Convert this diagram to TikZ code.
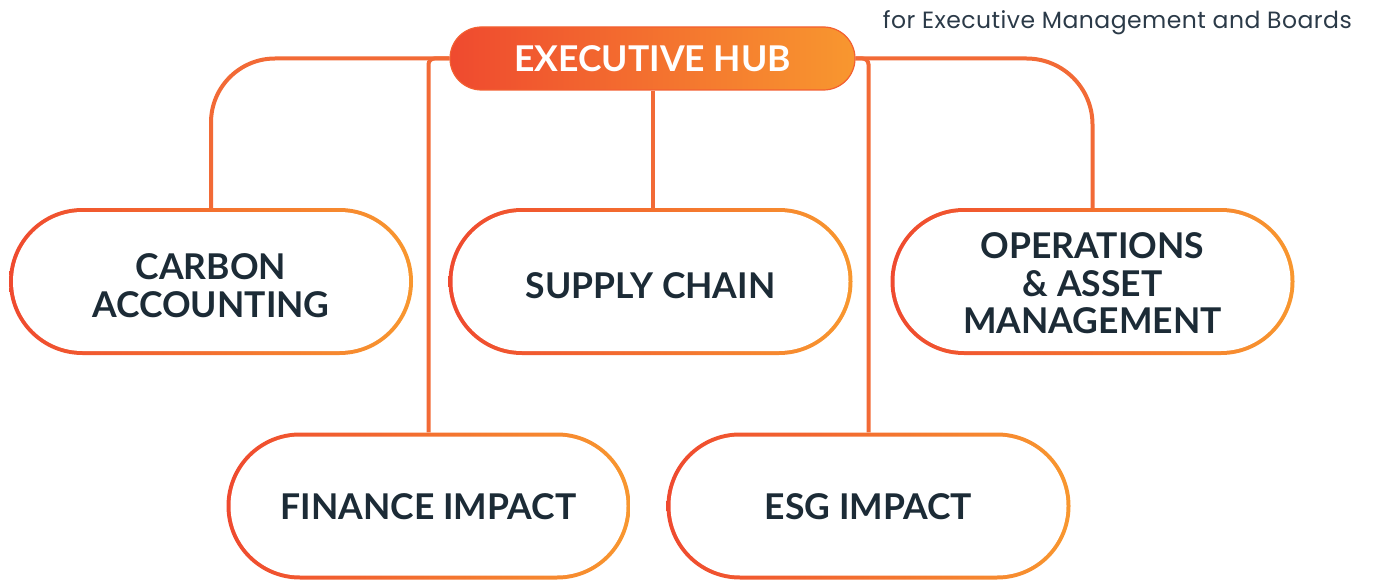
\documentclass[tikz,border=0pt]{standalone}
\usepackage{fontspec}
\setmainfont{Lato}
\newfontfamily\subfont[LetterSpace=2]{Poppins}
\usetikzlibrary{shapes.misc}
\definecolor{cred}{HTML}{EF4A2F}
\definecolor{corange}{HTML}{F8972F}
\definecolor{cline}{HTML}{F26A36}
\definecolor{ctext}{HTML}{1C2B36}
\definecolor{csub}{HTML}{2B3A48}
\pgfdeclarelayer{bg}
\pgfsetlayers{bg,main}
\tikzset{
  pill/.style={rounded rectangle, inner sep=0pt, left color=cred, right color=corange, draw=none,
    minimum width=404pt, minimum height=147pt},
  pillin/.style={rounded rectangle, inner sep=0pt, fill=white, draw=none,
    minimum width=396pt, minimum height=139pt},
  pilltext/.style={inner sep=0pt, font=\bfseries\fontsize{35.5}{37.5}\selectfont, text=ctext, align=center},
  hubstyle/.style={rounded rectangle, inner sep=0pt, left color=cred, right color=corange,
    draw=cline!90!red, line width=1.2pt, minimum width=405pt, minimum height=63pt,
    font=\bfseries\fontsize{35.5}{37}\selectfont, text=white},
  conn/.style={draw=cline, line width=4pt},
}
\begin{document}
\begin{tikzpicture}[x=1pt,y=-1pt]
\useasboundingbox (0,0) rectangle (1373,583);

\node[hubstyle] (hub) at (652.5,58.5) {EXECUTIVE HUB};

\node[anchor=base east, inner sep=0pt, font=\subfont\fontsize{23.5}{26}\selectfont, text=csub] (sub) at (1352,29) {for Executive Management and Boards};

\node[pill] (carbon) at (211,281.5) {};
\node[pillin] (carbonin) at (carbon.center) {};
\node[pilltext] (carbontxt) at ([yshift=-4pt]carbon.center) {CARBON\\ACCOUNTING};

\node[pill] (supply) at (650.5,281.5) {};
\node[pillin] (supplyin) at (supply.center) {};
\node[pilltext] (supplytxt) at ([yshift=-4pt]supply.center) {SUPPLY CHAIN};

\node[pill] (ops) at (1092.5,281.5) {};
\node[pillin] (opsin) at (ops.center) {};
\node[pilltext] (opstxt) at ([yshift=-2pt]ops.center) {OPERATIONS\\\&~ASSET\\MANAGEMENT};

\node[pill] (finance) at (428.5,506) {};
\node[pillin] (financein) at (finance.center) {};
\node[pilltext] (financetxt) at ([yshift=-1pt]finance.center) {FINANCE IMPACT};

\node[pill] (esg) at (868.5,506) {};
\node[pillin] (esgin) at (esg.center) {};
\node[pilltext] (esgtxt) at ([yshift=-1pt]esg.center) {ESG IMPACT};

\begin{pgfonlayer}{bg}
  \draw[conn, rounded corners=64pt] (hub.west) -| (carbon.north);
  \draw[conn, rounded corners=6pt] (hub.west) -| (finance.north);
  \draw[conn] (hub.south) -- (hub.south |- supply.north);
  \draw[conn, rounded corners=66pt] (hub.east) -| (ops.north);
  \draw[conn, rounded corners=6pt] (hub.east) -| (esg.north);
\end{pgfonlayer}
\end{tikzpicture}
\end{document}
